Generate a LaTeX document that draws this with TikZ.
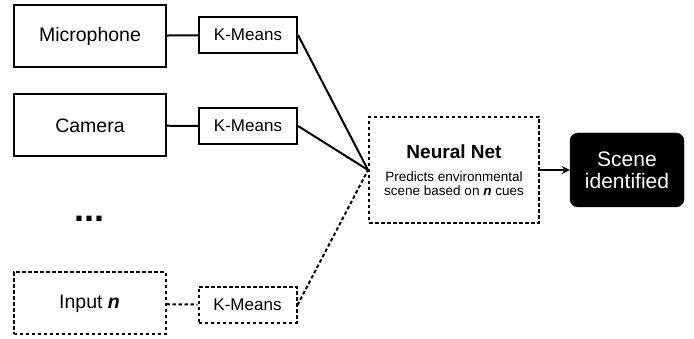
\documentclass[tikz,border=0pt]{standalone}
\usepackage{fontspec}
\setmainfont{Liberation Sans}
\usetikzlibrary{arrows.meta}
\begin{document}
\begin{tikzpicture}[x=1pt,y=-1pt,
 box/.style={draw, line width=2pt, minimum width=152pt, minimum height=62pt, inner sep=0pt, font=\fontsize{19.5}{21}\selectfont},
 km/.style={draw, line width=2pt, minimum width=98pt, minimum height=36pt, inner sep=0pt, font=\fontsize{17}{19}\selectfont},
 dsh/.style={dash pattern=on 3.5pt off 2.5pt},
 conn/.style={line width=2pt},
 txt/.style={inner sep=0pt}
]
\useasboundingbox (0,0) rectangle (694,339);
\node[box] (mic) at (90,36) {Microphone};
\node[km] (k1) at (248,35) {K-Means};
\node[box] (cam) at (90,125.5) {Camera};
\node[km] (k2) at (248,126) {K-Means};
\node[txt, anchor=base, font=\fontsize{36}{38}\selectfont\bfseries] (dots) at (89.5,222) {...};
\node[box,dsh] (inp) at (89.5,303.5) {Input \textbf{\textit{n}}};
\node[km,dsh] (k3) at (247.5,305) {K-Means};
\node[draw, line width=2pt, dsh, minimum width=170pt, minimum height=106pt, inner sep=0pt] (nn) at (454,170) {};
\node[txt, font=\fontsize{19}{20}\selectfont\bfseries] (nntitle) at (454,152) {Neural Net};
\node[txt, font=\fontsize{13.5}{14}\selectfont, align=center] (nndesc) at (454,184) {Predicts environmental\\scene based on \textbf{\textit{n}} cues};
\node[fill=black, draw=black, rounded corners=8pt, minimum width=114pt, minimum height=74pt, inner sep=0pt, text=white, align=center, font=\fontsize{21}{22}\selectfont] (scene) at (627,170) {Scene\\identified};
\draw[conn] (mic) -- (k1);
\draw[conn] (cam) -- (k2);
\draw[conn,dsh] (inp) -- (k3);
\draw[conn] (k1.east) -- (nn.west);
\draw[conn] (k2.east) -- (nn.west);
\draw[conn,dsh] (k3.east) -- (nn.west);
\draw[conn,-{Stealth[length=8pt,width=8pt]}] (nn.east) -- (scene.west);
\end{tikzpicture}
\end{document}
